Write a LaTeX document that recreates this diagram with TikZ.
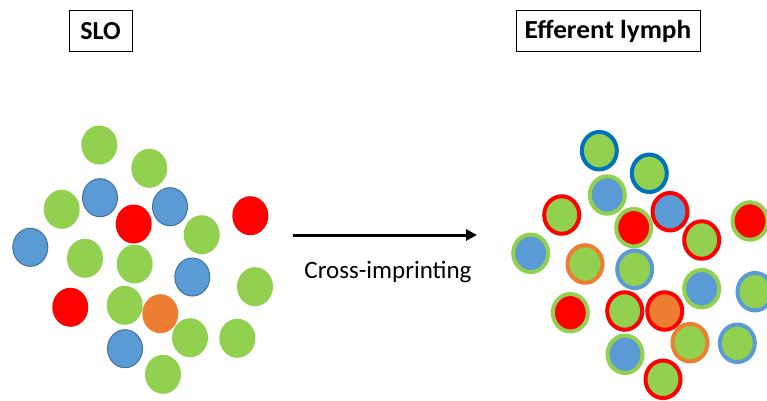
\documentclass[tikz,border=0pt]{standalone}
\usepackage{fontspec}
\setmainfont{Carlito}
\usetikzlibrary{shapes.geometric,arrows.meta}
\definecolor{cgreen}{HTML}{92D050}
\definecolor{cblue}{HTML}{5B9BD5}
\definecolor{cdblue}{HTML}{0070C0}
\definecolor{cbord}{HTML}{41719C}
\definecolor{cred}{HTML}{FF0000}
\definecolor{corange}{HTML}{ED7D31}
\tikzset{
 cell/.style={ellipse, inner sep=0pt, minimum width=36pt, minimum height=39pt, draw=none},
 G/.style={cell, fill=cgreen},
 B/.style={cell, fill=cblue, draw=cbord, line width=1pt, minimum width=35pt, minimum height=38pt},
 R/.style={cell, fill=cred},
 O/.style={cell, fill=corange},
 ring/.style 2 args={ellipse, inner sep=0pt, minimum width=35pt, minimum height=37.5pt, line width=4pt, draw=#1, fill=#2},
 title/.style={draw, line width=0.8pt, font=\bfseries\fontsize{26}{30}\selectfont, inner sep=0pt, minimum height=41pt},
 flow/.style={line width=3pt, -{Triangle[length=11pt,width=11pt]}},
}
\begin{document}
\begin{tikzpicture}[x=1pt,y=-1pt]
\useasboundingbox (0,0) rectangle (767,400);
% titles
\node[title, minimum width=63pt] (slo) at (100.5,31) {SLO};
\node[title, minimum width=184pt] (eff) at (608,31) {\scalebox{1.05}[1]{Efferent lymph}};
% left cells
\node[G] (l1) at (99.3,145) {};
\node[G] (l2) at (149.3,168.3) {};
\node[B] (l3) at (100,197.7) {};
\node[G] (l4) at (61.7,209.3) {};
\node[R] (l5) at (133.7,224) {};
\node[B] (l6) at (170,206.7) {};
\node[R] (l7) at (250.3,215.7) {};
\node[G] (l8) at (201.7,234.7) {};
\node[B] (l9) at (30.3,247.3) {};
\node[G] (l10) at (85,258.3) {};
\node[G] (l11) at (134.7,264) {};
\node[B] (l12) at (192.3,277) {};
\node[G] (l13) at (255,286.7) {};
\node[R] (l14) at (70.3,307.3) {};
\node[G] (l15) at (124.7,305.3) {};
\node[O] (l16) at (160.3,313.7) {};
\node[G] (l17) at (190,337.7) {};
\node[G] (l18) at (237.3,338.3) {};
\node[B] (l19) at (125,348.7) {};
\node[G] (l20) at (163,374.3) {};
% right cells
\node[ring={cdblue}{cgreen}] (r1) at (599.3,150.7) {};
\node[ring={cdblue}{cgreen}] (r2) at (649.3,173.3) {};
\node[ring={cgreen}{cblue}] (r3) at (607.3,195) {};
\node[ring={cred}{cgreen}] (r4) at (561.7,215) {};
\node[ring={cgreen}{cred}] (r5) at (633.7,227.7) {};
\node[ring={cred}{cblue}] (r6) at (670,211.7) {};
\node[ring={cred}{cgreen}] (r7) at (701.7,240) {};
\node[ring={cgreen}{cred}] (r8) at (750,221) {};
\node[ring={cgreen}{cblue}] (r9) at (530.7,253.3) {};
\node[ring={corange}{cgreen}] (r10) at (585,264) {};
\node[ring={cblue}{cgreen}] (r11) at (634.7,269.3) {};
\node[ring={cgreen}{cblue}] (r12) at (701.7,288.7) {};
\node[ring={cblue}{cgreen}] (r13) at (755,291.7) {};
\node[ring={cgreen}{cred}] (r14) at (570.3,312.7) {};
\node[ring={cred}{cgreen}] (r15) at (624.7,311) {};
\node[ring={cred}{corange}] (r16) at (664.7,311) {};
\node[ring={corange}{cgreen}] (r17) at (690,342.7) {};
\node[ring={cblue}{cgreen}] (r18) at (737.3,343.3) {};
\node[ring={cgreen}{cblue}] (r19) at (625,354.3) {};
\node[ring={cred}{cgreen}] (r20) at (663,379.3) {};
% arrow
\coordinate (as) at (292.5,235);
\coordinate (ae) at (477,235);
\draw[flow] (as) -- (ae);
\node[anchor=base, font=\fontsize{25}{30}\selectfont, inner sep=0pt] (lab) at (388,278.3) {Cross-imprinting};
\end{tikzpicture}
\end{document}
